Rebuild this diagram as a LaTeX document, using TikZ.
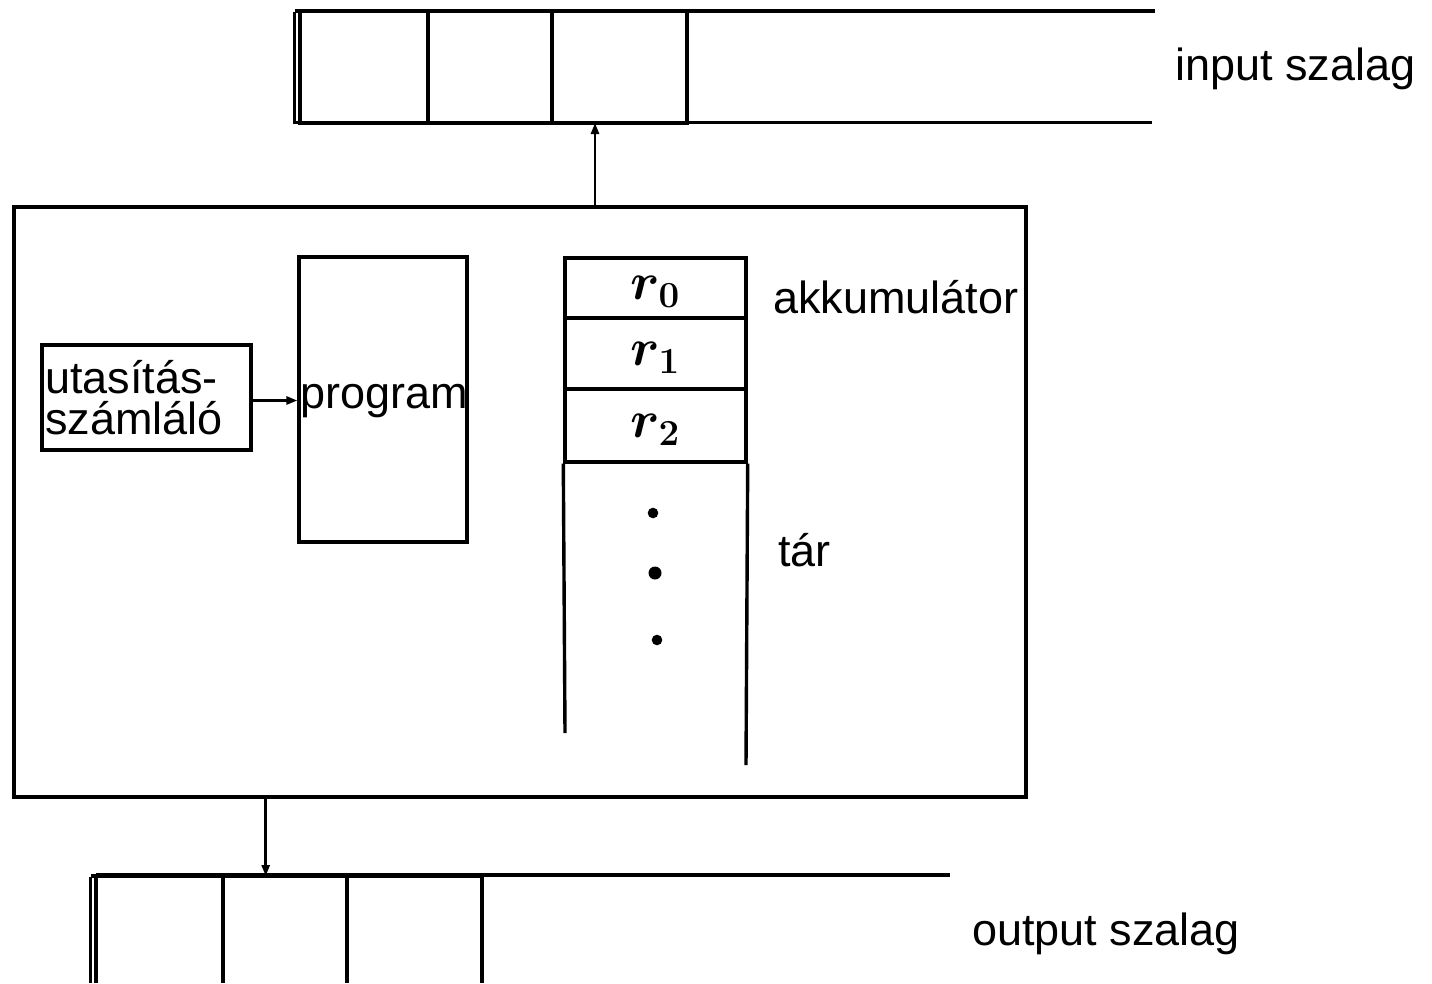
\RequirePackage{fix-cm}
\documentclass[tikz,border=0pt]{standalone}
\usepackage{fontspec}
\setmainfont{Liberation Sans}
\usetikzlibrary{arrows.meta}
\newcommand{\regtxt}[1]{\scalebox{1.5}{$#1$}}
\begin{document}
\begin{tikzpicture}[x=1pt,y=-1pt,
  lbl/.style={inner sep=0pt,anchor=base west,font=\fontsize{45}{45}\selectfont},
  cell/.style={draw,line width=4pt,inner sep=0pt},
  box/.style={draw,line width=3.2pt,inner sep=0pt},
  tapeline/.style={line width=3.2pt},
  reg/.style={draw,line width=3.4pt,inner sep=0pt,minimum width=181pt},
  regl/.style={inner sep=0pt,yshift=-4pt,font=\fontsize{35}{35}\selectfont\boldmath},
  arr/.style={line width=2.6pt,-{Triangle[length=11pt,width=8pt]}}]
\useasboundingbox (0,0) rectangle (1432,983);
% input tape
\draw[line width=2.4pt] (294.5,12) -- (294.5,123.5);
\draw[tapeline] (294.5,11) -- (1155,11);
\draw[tapeline] (294.5,122.5) -- (1152,122.5);
\node[cell,minimum width=128pt,minimum height=112pt] (c1) at (364,67) {};
\node[cell,minimum width=124pt,minimum height=112pt] (c2) at (490,67) {};
\node[cell,minimum width=135pt,minimum height=112pt] (c3) at (619.5,67) {};
\node[lbl] (inlbl) at (1175,80) {input szalag};
% main box
\node[box,minimum width=1012pt,minimum height=590pt] (main) at (520,502) {};
\coordinate (ia) at (595,123);
\draw[arr] (ia |- main.north) -- (ia);
% program and counter
\node[box,minimum width=168pt,minimum height=285pt] (prog) at (383,399.5) {};
\node[box,minimum width=209pt,minimum height=105pt] (cnt) at (146.5,397.5) {};
\node[lbl] (t1) at (45,393) {utasítás-};
\node[lbl] (t2) at (45,434) {számláló};
\node[lbl] (t3) at (300,408) {program};
\draw[arr] ([yshift=-3pt]cnt.east) -- ([yshift=-3pt]cnt.east -| prog.west);
% registers
\node[reg,minimum height=60pt] (r0) at (655.5,288) {};
\node[reg,minimum height=71pt] (r1) at (655.5,353.5) {};
\node[reg,minimum height=73pt] (r2) at (655.5,425.5) {};
\node[regl] (r0t) at (r0.center) {\regtxt{r_0}};
\node[regl] (r1t) at (r1.center) {\regtxt{r_1}};
\node[regl] (r2t) at (r2.center) {\regtxt{r_2}};
\draw[line width=3.4pt] (r2.south west) -- (565,733);
\draw[line width=3.4pt] (r2.south east) -- (746,765);
\fill (653,513) circle (5.3);
\fill (655,573) circle (6.5);
\fill (657,640) circle (5.3);
\node[lbl] (acc) at (773,313) {akkumulátor};
\node[lbl] (tar) at (778,566) {tár};
% output tape
\coordinate (oa) at (265.7,876);
\draw[arr] (oa |- main.south) -- (oa);
\draw[line width=2.4pt] (90.5,877) -- (90.5,983);
\draw[tapeline] (90.5,876) -- (96,876);
\draw[tapeline] (96,875) -- (950,875);
\draw[line width=4pt] (96,876) -- (482,876);
\draw[line width=4pt] (96,876) -- (96,983);
\draw[line width=4pt] (223,876) -- (223,983);
\draw[line width=4pt] (347,876) -- (347,983);
\draw[line width=3.2pt] (482,876) -- (482,983);
\node[lbl] (outlbl) at (972,945) {output szalag};
\end{tikzpicture}
\end{document}
